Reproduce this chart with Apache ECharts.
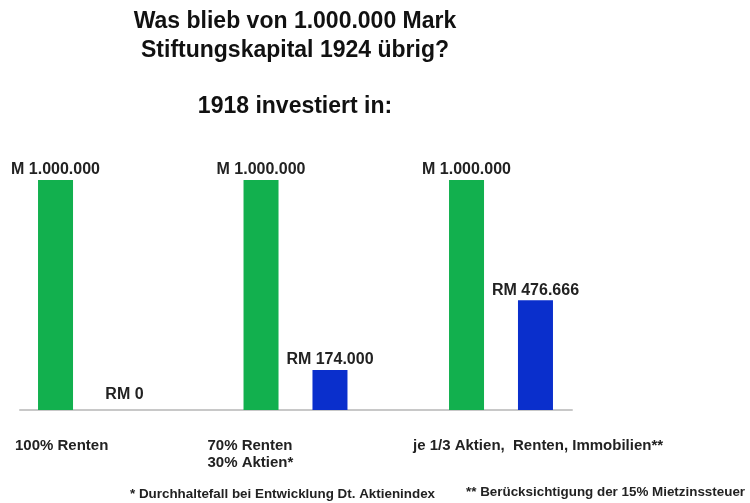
<!DOCTYPE html>
<html>
<head>
<meta charset="utf-8">
<script src="https://cdn.jsdelivr.net/npm/echarts@6/dist/echarts.min.js"></script>
<style>
  html, body { margin: 0; padding: 0; background: #ffffff; }
  #chart { width: 750px; height: 503px; }
</style>
</head>
<body>
<div id="chart"></div>
<script>
// Portfolio mixes chosen in 1918
const categories = ['100% Renten', '70% Renten\n30% Aktien*', 'je 1/3 Aktien,  Renten, Immobilien**'];
// Capital invested (Mark) and what was left in 1924 (Reichsmark)
const invested1918 = [1000000, 1000000, 1000000];
const remaining1924 = [0, 174000, 476666];
const investedPrefix = 'M ';
const remainingPrefix = 'RM ';

const titleText = 'Was blieb von 1.000.000 Mark\nStiftungskapital 1924 übrig?';
const subtitleText = '1918 investiert in:';
const footnotes = [
  '* Durchhaltefall bei Entwicklung Dt. Aktienindex',
  '** Berücksichtigung der 15% Mietzinssteuer'
];

const FONT = '"Liberation Sans", Arial, Helvetica, sans-serif';
const GREEN = '#12b04e';
const BLUE = '#0a2fcc';

// German thousands separator
function fmt(v) {
  return String(v).replace(/\B(?=(\d{3})+(?!\d))/g, '.');
}

const labelBase = { fontFamily: FONT, fontSize: 15, fontWeight: 'bold', color: '#222', lineHeight: 17, align: 'left' };

const chart = echarts.init(document.getElementById('chart'), null, { renderer: 'canvas' });

chart.setOption({
  animation: false,
  backgroundColor: '#ffffff',
  title: [
    {
      text: titleText, left: 295, top: 7, padding: 0, textAlign: 'center',
      textStyle: { fontFamily: FONT, fontSize: 23, fontWeight: 'bold', color: '#111', lineHeight: 29 }
    },
    {
      text: subtitleText, left: 295, top: 94, padding: 0, textAlign: 'center',
      textStyle: { fontFamily: FONT, fontSize: 23, fontWeight: 'bold', color: '#111', lineHeight: 26 }
    },
    {
      text: footnotes[0], left: 130, top: 488, padding: 0,
      textStyle: { fontFamily: FONT, fontSize: 13.4, fontWeight: 'bold', color: '#222' }
    },
    {
      text: footnotes[1], left: 466, top: 486, padding: 0,
      textStyle: { fontFamily: FONT, fontSize: 13.4, fontWeight: 'bold', color: '#222' }
    }
  ],
  grid: [
    { left: 90, right: 249, top: 180, bottom: 93 },
    { left: 20, right: 178, top: 180, bottom: 93 }
  ],
  xAxis: [
    {
      type: 'category', gridIndex: 0, data: categories, boundaryGap: false,
      axisLine: { show: false }, axisTick: { show: false },
      axisLabel: {
        interval: 0, hideOverlap: false, margin: 27,
        formatter: (v, i) => (i === 0 ? '{a|' : '{b|') + v + '}',
        rich: {
          a: Object.assign({ width: 150 }, labelBase),
          b: Object.assign({ width: 176 }, labelBase)
        }
      }
    },
    {
      type: 'category', gridIndex: 1, data: [''],
      axisLine: { show: true, lineStyle: { color: '#c8c8c8', width: 2 } },
      axisTick: { show: false }, axisLabel: { show: false }
    }
  ],
  yAxis: [
    { type: 'value', gridIndex: 0, min: 0, max: 1000000, show: false },
    { type: 'value', gridIndex: 1, min: 0, max: 1, show: false }
  ],
  series: [
    {
      type: 'bar', name: '1918', xAxisIndex: 0, yAxisIndex: 0,
      data: invested1918, barWidth: 35, barGap: '97%', clip: false, z: 3,
      itemStyle: { color: GREEN },
      label: {
        show: true, position: 'top', distance: 2,
        fontFamily: FONT, fontSize: 16, fontWeight: 'bold', color: '#222',
        formatter: p => investedPrefix + fmt(p.value)
      }
    },
    {
      type: 'bar', name: '1924', xAxisIndex: 0, yAxisIndex: 0,
      data: remaining1924.map(v => ({ value: v, label: { distance: v === 0 ? 7 : 2 } })),
      barWidth: 35, barGap: '97%', clip: false, z: 3,
      itemStyle: { color: BLUE },
      label: {
        show: true, position: 'top',
        fontFamily: FONT, fontSize: 16, fontWeight: 'bold', color: '#222',
        formatter: p => remainingPrefix + fmt(p.value)
      }
    }
  ]
});
</script>
</body>
</html>
